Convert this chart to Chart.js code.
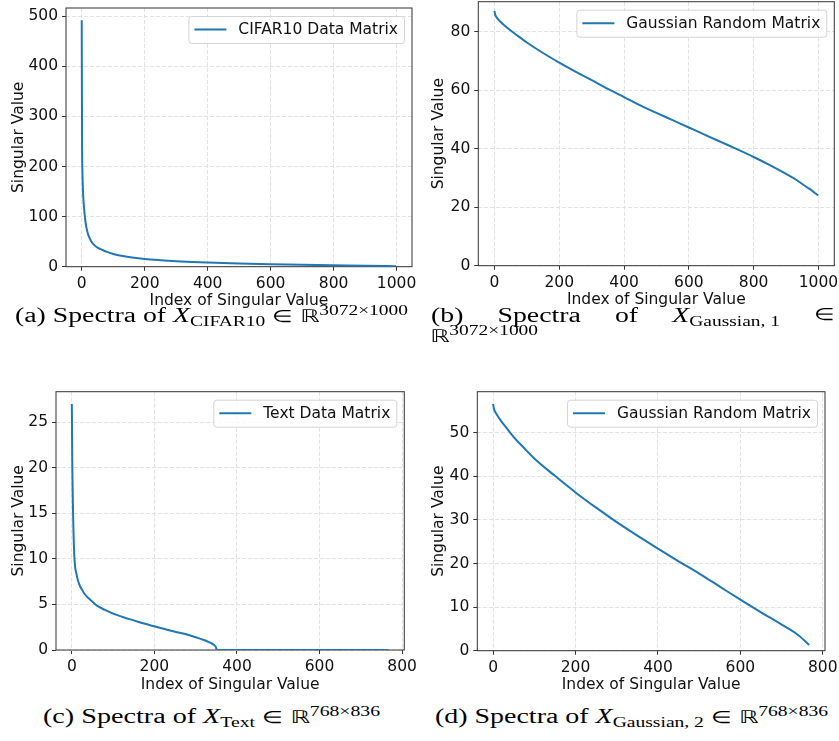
<!DOCTYPE html>
<html><head><meta charset="utf-8">
<script src="https://cdn.jsdelivr.net/npm/chart.js@4"></script>
<style>
html,body{margin:0;padding:0;background:#fff;}
body{width:839px;height:741px;position:relative;overflow:hidden;}
canvas{position:absolute;}
.cap{position:absolute;font-family:"Liberation Serif","Times New Roman",serif;font-size:20px;line-height:20px;white-space:nowrap;color:#000;transform-origin:0 0;}
.cap i{font-style:italic;}
.sub{font-size:70%;position:relative;top:0.3em;}
.sup{font-size:70%;position:relative;top:-0.48em;}
.bb{font-family:"DejaVu Sans",sans-serif;font-size:88%;}
.el{font-size:85%;}
.line1{display:flex;justify-content:space-between;}
</style>
</head><body>
<canvas id="ca" width="420" height="310" style="left:0;top:0"></canvas>
<canvas id="cb" width="419" height="309" style="left:420px;top:0"></canvas>
<canvas id="cc" width="420" height="314" style="left:0;top:380px"></canvas>
<canvas id="cd" width="419" height="314" style="left:420px;top:380px"></canvas>

<div class="cap" id="capA" style="left:15px;top:305px">(a) Spectra of <i>X</i><span class="sub">CIFAR10</span> <span class="el">∈</span> <span class="bb">ℝ</span><span class="sup">3072×1000</span></div>
<div class="cap" id="capB1" style="left:431px;top:305px"><div class="line1" id="capB1in"><span>(b)</span><span>Spectra</span><span>of</span><span><i>X</i><span class="sub">Gaussian, 1</span></span><span class="el">∈</span></div></div>
<div class="cap" id="capB2" style="left:430px;top:325px"><span class="bb">ℝ</span><span class="sup">3072×1000</span></div>
<div class="cap" id="capC" style="left:43px;top:706px">(c) Spectra of <i>X</i><span class="sub">Text</span> <span class="el">∈</span> <span class="bb">ℝ</span><span class="sup">768×836</span></div>
<div class="cap" id="capD" style="left:435px;top:706px">(d) Spectra of <i>X</i><span class="sub">Gaussian, 2</span> <span class="el">∈</span> <span class="bb">ℝ</span><span class="sup">768×836</span></div>

<script>
// ---------- data ----------
const cifarIndex  = [0,1,2,3,4,5,7,10,13,16,20,25,30,40,50,60,80,100,130,160,200,250,300,350,400,500,600,700,800,900,999];
const cifarValues = [492,260,195,170,150,138,120,100,85,75,65,57,51,43,38,35,29.5,25.5,21.5,18.5,15.5,13,11,9.5,8.3,6.5,5,3.8,2.8,1.9,0.8];

const gauss1Index  = [0,2,5,10,20,30,50,75,100,150,200,250,300,350,400,450,500,550,600,650,700,750,800,850,900,930,960,980,990,999];
const gauss1Values = [87.2,86,85.3,84.5,83.3,82.3,80.5,78.4,76.4,72.8,69.5,66.4,63.5,60.5,57.7,54.9,52.3,49.8,47.3,44.8,42.3,39.8,37.2,34.4,31.4,29.5,27.2,25.7,24.8,24.1];

const textIndex  = [0,1,2,3,4,5,6,7,8,10,15,20,25,30,40,50,60,80,100,125,150,175,200,225,250,275,300,320,335,345,349,351,400,500,600,767];
const textValues = [27,21,17.5,15,13,11.5,10.3,9.6,9.1,8.6,7.6,7.0,6.6,6.2,5.7,5.3,4.9,4.4,4.0,3.6,3.25,2.9,2.6,2.3,2.0,1.75,1.4,1.1,0.8,0.55,0.3,0,0,0,0,0];

const gauss2Index  = [0,2,5,10,20,30,50,75,100,150,200,250,300,350,400,450,500,550,600,650,700,740,767];
const gauss2Values = [56.6,55.5,54.8,54.0,52.6,51.4,49.0,46.5,44.1,40.1,36.3,32.8,29.5,26.4,23.4,20.5,17.7,14.7,11.7,8.8,6.0,3.6,1.3];

const seriesLabels = ["CIFAR10 Data Matrix","Gaussian Random Matrix","Text Data Matrix","Gaussian Random Matrix"];
const xTicks1000 = [0,200,400,600,800,1000];
const xTicks800  = [0,200,400,600,800];
const yTicksA = [0,100,200,300,400,500];
const yTicksB = [0,20,40,60,80];
const yTicksC = [0,5,10,15,20,25];
const yTicksD = [0,10,20,30,40,50];
const xTitle = "Index of Singular Value";
const yTitle = "Singular Value";

// ---------- drawing ----------
const FONT = '"DejaVu Sans", sans-serif';
const FS = 15.5;
const LINE = '#1f77b4';

const framePlugin = {
  id: 'frame',
  beforeDatasetsDraw(chart) {
    const {ctx, chartArea: a} = chart;
    ctx.save();
    ctx.strokeStyle = '#333';
    ctx.lineWidth = 1;
    ctx.strokeRect(a.left, a.top, a.right - a.left, a.bottom - a.top);
    ctx.restore();
  }
};
const legendPlugin = {
  id: 'boxLegend',
  afterDraw(chart) {
    const {ctx, chartArea: a} = chart;
    const label = chart.data.datasets[0].label;
    ctx.save();
    ctx.font = FS + 'px ' + FONT;
    const tw = ctx.measureText(label).width;
    const h = 27, w = 50 + tw + 6;
    const x = a.right - 8 - w, y = a.top + 8;
    ctx.beginPath();
    ctx.roundRect(x + 0.5, y + 0.5, w, h, 3);
    ctx.fillStyle = 'rgba(255,255,255,0.8)';
    ctx.fill();
    ctx.strokeStyle = '#d4d4d4';
    ctx.lineWidth = 1;
    ctx.stroke();
    ctx.beginPath();
    ctx.moveTo(x + 6, y + h / 2);
    ctx.lineTo(x + 38, y + h / 2);
    ctx.strokeStyle = LINE;
    ctx.lineWidth = 2;
    ctx.stroke();
    ctx.fillStyle = '#111';
    ctx.textBaseline = 'middle';
    ctx.fillText(label, x + 50, y + h / 2 + 0.5);
    ctx.restore();
  }
};

function toPoints(xs, ys) { return xs.map((x, i) => ({x: x, y: ys[i]})); }

function makeChart(id, box, area, xs, ys, label, xRange, yRange, xTicks, yTicks) {
  const axisCommon = {
    grid: {color: '#e2e2e2', lineWidth: 1, tickColor: '#333', tickLength: 4, tickWidth: 1, tickBorderDash: []},
    border: {display: false, dash: [4, 2]},
    ticks: {font: {family: FONT, size: FS}, color: '#111', padding: 4, autoSkip: false, maxRotation: 0,
            callback: v => String(v)}
  };
  return new Chart(document.getElementById(id), {
    type: 'line',
    data: {datasets: [{label: label, data: toPoints(xs, ys), borderColor: LINE, borderWidth: 2,
                       pointRadius: 0, fill: false, cubicInterpolationMode: 'monotone'}]},
    options: {
      responsive: false, animation: false, devicePixelRatio: 1,
      layout: {padding: {top: area.t - box.y, right: box.x + box.w - area.r, left: 0, bottom: 0}},
      plugins: {legend: {display: false}, tooltip: {enabled: false}},
      scales: {
        x: Object.assign({}, axisCommon, {
          type: 'linear', min: xRange[0], max: xRange[1],
          title: {display: true, text: xTitle, font: {family: FONT, size: FS}, color: '#111', padding: {top: 0, bottom: 0}},
          afterBuildTicks: s => { s.ticks = xTicks.map(v => ({value: v})); },
          afterFit: s => { s.height = box.y + box.h - area.b; s.paddingLeft = 0; s.paddingRight = 0; }
        }),
        y: Object.assign({}, axisCommon, {
          type: 'linear', min: yRange[0], max: yRange[1],
          title: {display: true, text: yTitle, font: {family: FONT, size: FS}, color: '#111', padding: {top: 9.5, bottom: 0}},
          afterBuildTicks: s => { s.ticks = yTicks.map(v => ({value: v})); },
          afterFit: s => { s.width = area.l - box.x; s.paddingTop = 0; s.paddingBottom = 0; }
        })
      }
    },
    plugins: [framePlugin, legendPlugin]
  });
}

makeChart('ca', {x: 0, y: 0, w: 420, h: 310}, {l: 66, t: 8, r: 412, b: 266.7},
  cifarIndex, cifarValues, seriesLabels[0], [-49.95, 1048.95], [0, 516.6], xTicks1000, yTicksA);
makeChart('cb', {x: 420, y: 0, w: 419, h: 309}, {l: 478.3, t: 1.7, r: 834.3, b: 265.7},
  gauss1Index, gauss1Values, seriesLabels[1], [-49.95, 1048.95], [0, 90.35], xTicks1000, yTicksB);
makeChart('cc', {x: 0, y: 380, w: 420, h: 314}, {l: 56, t: 391.7, r: 404.3, b: 650},
  textIndex, textValues, seriesLabels[2], [-38.35, 805.35], [0, 28.35], xTicks800, yTicksC);
makeChart('cd', {x: 420, y: 380, w: 419, h: 314}, {l: 477.3, t: 391.7, r: 825, b: 650.7},
  gauss2Index, gauss2Values, seriesLabels[3], [-38.35, 805.35], [0, 59.4], xTicks800, yTicksD);

// stretch captions horizontally to the reference widths
function fitCaption(id, width) {
  const el = document.getElementById(id);
  const w = el.getBoundingClientRect().width;
  const s = width / w;
  el.style.transform = 'scaleX(' + s + ')';
  return s;
}
const capScale = fitCaption('capA', 393);
fitCaption('capC', 337);
fitCaption('capD', 393);
document.getElementById('capB1in').style.width = (404 / capScale) + 'px';
document.getElementById('capB1').style.transform = 'scaleX(' + capScale + ')';
document.getElementById('capB2').style.transform = 'scaleX(' + capScale + ')';
</script>
</body></html>
